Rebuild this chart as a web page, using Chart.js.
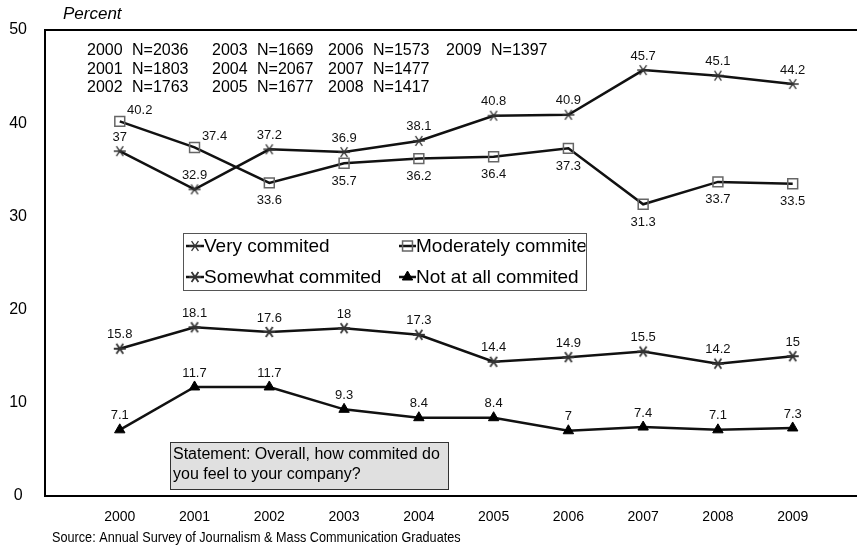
<!DOCTYPE html>
<html>
<head>
<meta charset="utf-8">
<script src="https://cdn.jsdelivr.net/npm/chart.js@4.4.0/dist/chart.umd.min.js"></script>
<style>
  html, body { margin: 0; padding: 0; background: #fff; }
  #grafico { display: block; }
</style>
</head>
<body>
<canvas id="grafico" width="857" height="557"></canvas>
<script>
const years = [2000, 2001, 2002, 2003, 2004, 2005, 2006, 2007, 2008, 2009];
const veryCommited = [37, 32.9, 37.2, 36.9, 38.1, 40.8, 40.9, 45.7, 45.1, 44.2];
const moderatelyCommited = [40.2, 37.4, 33.6, 35.7, 36.2, 36.4, 37.3, 31.3, 33.7, 33.5];
const somewhatCommited = [15.8, 18.1, 17.6, 18, 17.3, 14.4, 14.9, 15.5, 14.2, 15];
const notAtAllCommited = [7.1, 11.7, 11.7, 9.3, 8.4, 8.4, 7, 7.4, 7.1, 7.3];
const sampleSizes = [2036, 1803, 1763, 1669, 2067, 1677, 1573, 1477, 1417, 1397];
const seriesNames = ['Very commited', 'Moderately commited', 'Somewhat commited', 'Not at all commited'];

// where each value label sits relative to its point
const labelPlacement = [
  Array(10).fill('above'),
  ['right', 'right', 'below', 'below', 'below', 'below', 'below', 'below', 'below', 'below'],
  Array(10).fill('above'),
  Array(10).fill('above')
];

const FONT = '"Liberation Sans", Arial, sans-serif';

function asterisco(size, lw) {
  const c = document.createElement('canvas');
  c.width = c.height = size * 2 + 4;
  const g = c.getContext('2d');
  const m = size + 2;
  g.strokeStyle = '#333';
  g.lineWidth = lw;
  g.beginPath();
  [0, 55, 125].forEach(a => {
    const r = a * Math.PI / 180;
    g.moveTo(m - size * Math.cos(r), m - size * Math.sin(r));
    g.lineTo(m + size * Math.cos(r), m + size * Math.sin(r));
  });
  g.stroke();
  return c;
}

const starThin = asterisco(6, 1.3);
const starBold = asterisco(6, 1.8);

const toPoints = vals => vals.map((v, i) => ({ x: years[i], y: v }));

const estilos = [
  { pointStyle: starThin, pointRadius: 6, pointBackgroundColor: '#333', pointBorderColor: '#333', pointBorderWidth: 1 },
  { pointStyle: 'rect', pointRadius: 7, pointBackgroundColor: 'rgba(0,0,0,0)', pointBorderColor: '#666', pointBorderWidth: 1.5 },
  { pointStyle: starBold, pointRadius: 6, pointBackgroundColor: '#333', pointBorderColor: '#333', pointBorderWidth: 1 },
  { pointStyle: 'triangle', pointRadius: 6, pointBackgroundColor: '#000', pointBorderColor: '#000', pointBorderWidth: 1 }
];

const series = [veryCommited, moderatelyCommited, somewhatCommited, notAtAllCommited];

const etiquetas = {
  id: 'etiquetas',
  afterDatasetsDraw(chart) {
    const ctx = chart.ctx;
    ctx.save();
    ctx.font = '13px ' + FONT;
    ctx.fillStyle = '#111';
    ctx.textAlign = 'center';
    ctx.textBaseline = 'middle';
    chart.data.datasets.forEach((ds, di) => {
      chart.getDatasetMeta(di).data.forEach((pt, i) => {
        const pos = labelPlacement[di][i];
        let x = pt.x, y = pt.y;
        if (pos === 'above') y -= 14;
        else if (pos === 'below') y += 18;
        else { x += 20; y -= 11; }
        ctx.fillText(String(series[di][i]), x, y);
      });
    });
    ctx.restore();
  }
};

const decoracion = {
  id: 'decoracion',
  beforeDatasetsDraw(chart) {
    const { ctx, chartArea: a } = chart;
    ctx.save();
    ctx.strokeStyle = '#000';
    ctx.lineWidth = 2;
    ctx.beginPath();
    ctx.moveTo(chart.width, a.top);
    ctx.lineTo(a.left, a.top);
    ctx.lineTo(a.left, a.bottom);
    ctx.lineTo(chart.width, a.bottom);
    ctx.stroke();
    ctx.restore();
  },
  afterDraw(chart) {
    const ctx = chart.ctx;
    ctx.save();
    ctx.fillStyle = '#000';
    ctx.textBaseline = 'middle';
    ctx.textAlign = 'left';

    ctx.font = 'italic 17px ' + FONT;
    ctx.fillText('Percent', 63, 14);

    // sample sizes
    ctx.font = '16px ' + FONT;
    const colX = [87, 212, 328, 446];
    const rowY = [51, 70, 88];
    years.forEach((yr, i) => {
      const col = Math.floor(i / 3), row = i % 3;
      ctx.fillText(String(yr), colX[col], rowY[row]);
      ctx.fillText('N=' + sampleSizes[i], colX[col] + 45, rowY[row]);
    });

    // legend
    const box = { x: 183.5, y: 233.5, w: 403, h: 57 };
    ctx.fillStyle = '#fff';
    ctx.fillRect(box.x, box.y, box.w, box.h);
    ctx.save();
    ctx.beginPath();
    ctx.rect(box.x, box.y, box.w - 1, box.h);
    ctx.clip();
    const slots = [[186, 246, 18], [399, 246, 17], [186, 277, 18], [399, 277, 17]];
    ctx.font = '19px ' + FONT;
    slots.forEach(([x, y, len], i) => {
      ctx.strokeStyle = '#111';
      ctx.lineWidth = 2.5;
      ctx.beginPath();
      ctx.moveTo(x, y);
      ctx.lineTo(x + len, y);
      ctx.stroke();
      const e = estilos[i];
      ctx.fillStyle = e.pointBackgroundColor;
      ctx.strokeStyle = e.pointBorderColor;
      ctx.lineWidth = e.pointBorderWidth;
      Chart.helpers.drawPoint(ctx, {
        pointStyle: e.pointStyle, radius: e.pointRadius, rotation: 0, borderWidth: e.pointBorderWidth
      }, x + len / 2, y);
      ctx.fillStyle = '#000';
      ctx.fillText(seriesNames[i], x + len, y + 1);
    });
    ctx.restore();
    ctx.strokeStyle = '#555';
    ctx.lineWidth = 1;
    ctx.strokeRect(box.x, box.y, box.w, box.h);

    // statement box
    ctx.fillStyle = '#e0e0e0';
    ctx.fillRect(170.5, 442.5, 278, 47);
    ctx.strokeStyle = '#333';
    ctx.lineWidth = 1;
    ctx.strokeRect(170.5, 442.5, 278, 47);
    ctx.fillStyle = '#000';
    ctx.font = '16px ' + FONT;
    ctx.fillText('Statement: Overall, how commited do', 173, 455);
    ctx.fillText('you feel to your company?', 173, 475);

    // source line, slightly condensed like the original
    ctx.font = '15px ' + FONT;
    ctx.translate(52, 538);
    ctx.scale(0.845, 1);
    ctx.fillText('Source: Annual Survey of Journalism & Mass Communication Graduates', 0, 0);
    ctx.restore();
  }
};

new Chart(document.getElementById('grafico'), {
  type: 'line',
  data: {
    datasets: series.map((vals, i) => Object.assign({
      label: seriesNames[i],
      data: toPoints(vals),
      borderColor: '#111',
      borderWidth: 2.5,
      tension: 0,
      fill: false
    }, estilos[i]))
  },
  options: {
    responsive: false,
    animation: false,
    layout: { autoPadding: false, padding: { top: 30, right: 0, left: 0, bottom: 0 } },
    plugins: { legend: { display: false }, tooltip: { enabled: false } },
    scales: {
      x: {
        type: 'linear',
        min: 1999,
        max: 2009.86, // the plot area runs on past the right edge of the picture
        grid: { display: false, drawTicks: false },
        border: { display: false },
        afterFit: s => { s.height = 61; },
        afterBuildTicks: s => { s.ticks = years.map(v => ({ value: v })); },
        ticks: {
          autoSkip: false,
          maxRotation: 0,
          padding: 13,
          color: '#000',
          font: { size: 14, family: FONT },
          callback: v => String(v)
        }
      },
      y: {
        min: 0,
        max: 50,
        grid: { display: false, drawTicks: false },
        border: { display: false },
        afterFit: s => { s.width = 45; },
        ticks: {
          stepSize: 10,
          crossAlign: 'center',
          padding: 18,
          color: '#000',
          font: { size: 16, family: FONT }
        }
      }
    }
  },
  plugins: [decoracion, etiquetas]
});
</script>
</body>
</html>
